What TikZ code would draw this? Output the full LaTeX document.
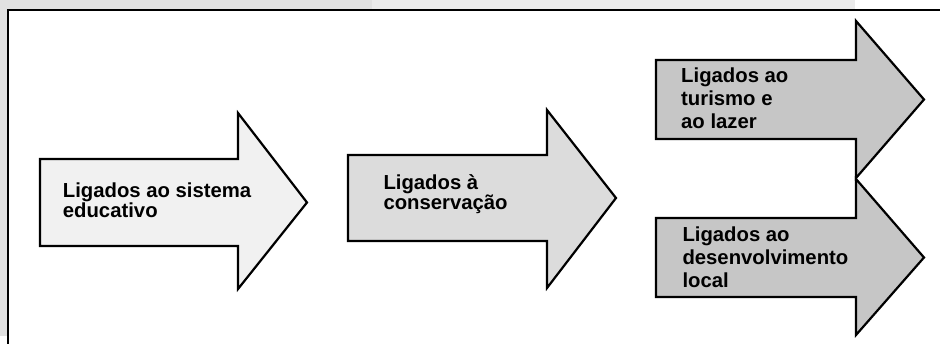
\documentclass[tikz,border=0pt]{standalone}
\usepackage{fontspec}
\setmainfont{Liberation Sans}
\definecolor{pgBandDark}{HTML}{E1E1E1}
\definecolor{pgBandLight}{HTML}{EBEBEB}
\definecolor{pgFillA}{HTML}{F1F1F1}
\definecolor{pgFillB}{HTML}{DCDCDC}
\definecolor{pgFillC}{HTML}{C6C6C6}
% arrow outline: fill, left, shaft top, shaft bottom, head x, head top, head bottom, tip x
\newcommand{\pgArrow}[8]{\filldraw[arrowline, fill=#1] (#2,#3) -- (#5,#3) -- (#5,#6) -- (#8,{(#3+#4)/2}) -- (#5,#7) -- (#5,#4) -- (#2,#4) -- cycle;}
\tikzset{
  arrowline/.style={draw=black, line width=2.2pt, line join=miter},
  arrowtext/.style={anchor=base west, inner sep=0pt, align=left, font=\fontsize{20.3}{19}\selectfont\bfseries},
  arrowtextwide/.style={arrowtext, font=\fontsize{20.3}{23}\selectfont\bfseries}
}
\begin{document}
\begin{tikzpicture}[x=1pt,y=-1pt]
\useasboundingbox (0,0) rectangle (940,344);
% background and frame
\fill[pgBandDark] (0,0) rectangle (372,10);
\fill[pgBandLight] (372,0) rectangle (855,10);
\fill[pgBandDark] (0,0) rectangle (8,336);
\draw[line width=2pt] (8,344) -- (8,10) -- (940,10);
% arrows
\pgArrow{pgFillA}{40}{159}{246}{238}{113}{289}{307}
\pgArrow{pgFillB}{348}{155}{241}{547}{110}{288}{616}
\pgArrow{pgFillC}{656}{60}{139}{856}{21}{178}{924}
\pgArrow{pgFillC}{656}{218}{297}{856}{179}{335}{924}
% labels (anchored on the last line)
\node[arrowtext] (educ) at (62.7,217.3) {Ligados ao sistema\\educativo};
\node[arrowtext, font=\fontsize{20.3}{20}\selectfont\bfseries] (cons) at (383.3,210) {Ligados à\\conservação};
\node[arrowtextwide] (tur) at (681,128.5) {Ligados ao\\turismo e\\ao lazer};
\node[arrowtextwide] (desen) at (682.3,288) {Ligados ao\\desenvolvimento\\local};
\end{tikzpicture}
\end{document}
